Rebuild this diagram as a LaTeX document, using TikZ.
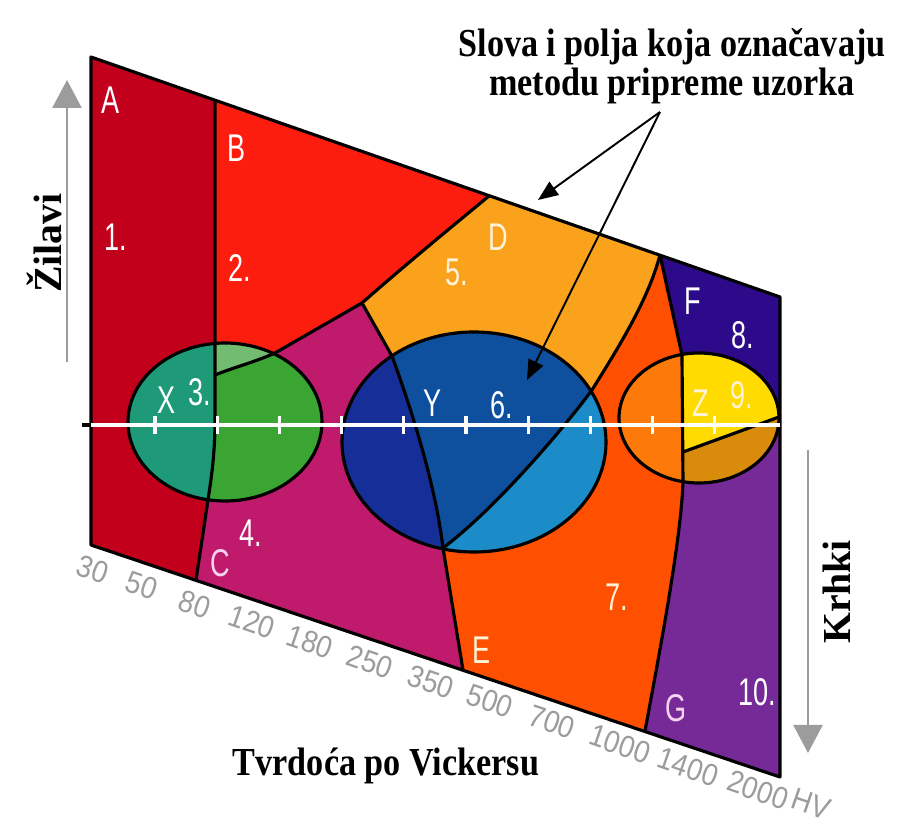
\documentclass[tikz,border=0pt]{standalone}
\usepackage{fontspec}
\setmainfont{Liberation Serif}
\setsansfont{Liberation Sans}
\usepackage{xcolor}
\usetikzlibrary{arrows.meta, backgrounds}
\definecolor{crvenaA}{HTML}{C3001B}
\definecolor{crvenaB}{HTML}{FD1D0F}
\definecolor{ljubC}{HTML}{BF1A6C}
\definecolor{narD}{HTML}{FBA21D}
\definecolor{narE}{HTML}{FE5000}
\definecolor{plavF}{HTML}{2D0A8A}
\definecolor{ljubG}{HTML}{752A98}
\definecolor{zelTeal}{HTML}{1F9A78}
\definecolor{zelena}{HTML}{3BA534}
\definecolor{zelSvj}{HTML}{72BC72}
\definecolor{plavTam}{HTML}{152E98}
\definecolor{plavSr}{HTML}{0E4F9E}
\definecolor{plavSvj}{HTML}{1B8CC8}
\definecolor{zNar}{HTML}{FD7A0A}
\definecolor{zZut}{HTML}{FFDB00}
\definecolor{zZlat}{HTML}{D98B0C}
\definecolor{sivaN}{HTML}{9C9C9C}
\definecolor{rozaL}{HTML}{F6D2EE}
\definecolor{krem}{HTML}{FFF2D6}
% outlines of the fields (picture units = pixels)
\newcommand\poljeA{(91,57) -- (215,100) -- (215,420) .. controls (215,455) and (211,480) .. (208,500) -- (196,580) -- (91,545) -- cycle}
\newcommand\poljeB{(215,100) -- (489,196) .. controls (449,229) and (404,266) .. (362,303) -- (275,353) .. controls (255,362) and (232,368) .. (215,375) -- cycle}
\newcommand\poljeC{(215,375) .. controls (232,368) and (255,362) .. (275,353) -- (362,303) -- (392,356) .. controls (408,400) and (435,480) .. (443,548) -- (463,670) -- (196,580) -- (208,500) .. controls (211,480) and (215,455) .. (215,420) -- cycle}
\newcommand\poljeD{(489,196) -- (660,255) .. controls (648,300) and (620,345) .. (592,390) .. controls (570,420) and (500,505) .. (443,548) .. controls (435,480) and (408,400) .. (392,356) -- (362,303) .. controls (404,266) and (449,229) .. (489,196) -- cycle}
\newcommand\poljeE{(443,548) .. controls (500,505) and (570,420) .. (592,390) .. controls (620,345) and (648,300) .. (660,255) -- (682,355) -- (683,482) .. controls (681,540) and (660,650) .. (645,731) -- (463,670) -- cycle}
\newcommand\poljeF{(660,255) -- (780,297) -- (780,418) -- (682,418) -- (682,355) -- cycle}
\newcommand\poljeG{(682,418) -- (780,418) -- (780,777) -- (645,731) .. controls (660,650) and (681,540) .. (683,482) -- cycle}
% the three ellipses X, Y, Z
\newcommand\elX{(225,422) ellipse [x radius=9.7mm, y radius=7.9mm]}
\newcommand\elY{(474,442) ellipse [x radius=13.2mm, y radius=11mm]}
\newcommand\elZ{(699,418) ellipse [x radius=8mm, y radius=6.5mm]}

\begin{document}
\begin{tikzpicture}[x=0.1mm, y=-0.1mm,
    background rectangle/.style={fill=white}, show background rectangle, inner frame sep=0pt,
    grana/.style={line width=0.9pt, black, line join=round},
    slovo/.style={text=white, font=\sffamily\fontsize{11}{12}\selectfont, xscale=0.7, inner sep=0pt},
    broj/.style={text=sivaN, font=\sffamily\fontsize{8.8}{10}\selectfont, rotate=-19, xscale=0.9, inner sep=0pt},
    natpis/.style={font=\bfseries\fontsize{11.3}{11}\selectfont, inner sep=0pt}]
  \useasboundingbox (0,0) rectangle (907,822);
  % fields
  \fill[crvenaA] \poljeA;
  \fill[crvenaB] \poljeB;
  \fill[ljubC] \poljeC;
  \fill[narD] \poljeD;
  \fill[narE] \poljeE;
  \fill[plavF] \poljeF;
  \fill[ljubG] \poljeG;
  % ellipse X
  \begin{scope}
    \clip \elX;
    \fill[zelTeal] \poljeA;
    \fill[zelSvj] \poljeB;
    \fill[zelena] \poljeC;
  \end{scope}
  % ellipse Y
  \begin{scope}
    \clip \elY;
    \fill[plavTam] \poljeC;
    \fill[plavSr] \poljeD;
    \fill[plavSvj] \poljeE;
  \end{scope}
  % ellipse Z
  \begin{scope}
    \clip \elZ;
    \fill[zNar] \poljeE;
    \fill[zZut] \poljeF;
    \fill[zZut] \poljeG;
    \fill[zZlat] (683,452) -- (782,416) -- (782,520) -- (683,520) -- cycle;
  \end{scope}
  % borders
  \draw[grana] (215,100) -- (215,420) .. controls (215,455) and (211,480) .. (208,500) -- (196,580);
  \draw[grana] (489,196) .. controls (449,229) and (404,266) .. (362,303) -- (275,353) .. controls (255,362) and (232,368) .. (215,375);
  \draw[grana] (362,303) -- (392,356) .. controls (408,400) and (435,480) .. (443,548) -- (463,670);
  \draw[grana] (660,255) .. controls (648,300) and (620,345) .. (592,390) .. controls (570,420) and (500,505) .. (443,548);
  \draw[grana] (660,255) -- (682,355) -- (683,482) .. controls (681,540) and (660,650) .. (645,731);
  \draw[grana] (683,452) -- (779,417);
  \draw[grana] \elX \elY \elZ;
  \draw[grana] (91,57) -- (780,297) -- (780,777) -- (91,545) -- cycle;
  % hardness axis
  \draw[black, line width=0.9pt] (82,425) -- (91,425);
  \draw[white, line width=1.4pt] (91,425) -- (780,425);
  \foreach \i in {0,...,9}
    \draw[white, line width=0.9pt] ({155+62.2*\i},416) -- ({155+62.2*\i},434);
  % letters and numbers of the fields
  \node[slovo] (lA) at (111,100) {A};
  \node[slovo] (l1) at (116,237) {1.};
  \node[slovo] (lB) at (237,148) {B};
  \node[slovo] (l2) at (240,268) {2.};
  \node[slovo] (lX) at (167,400) {X};
  \node[slovo] (l3) at (200,392) {3.};
  \node[slovo] (l4) at (251,533) {4.};
  \node[slovo, text=rozaL] (lC) at (220,563) {C};
  \node[slovo, text=krem] (lD) at (498,237) {D};
  \node[slovo, text=krem] (l5) at (457,272) {5.};
  \node[slovo] (lY) at (433,403) {Y};
  \node[slovo] (l6) at (502,405) {6.};
  \node[slovo, text=krem] (l7) at (617,597) {7.};
  \node[slovo, text=krem] (lE) at (482,650) {E};
  \node[slovo] (lF) at (693,301) {F};
  \node[slovo] (l8) at (743,335) {8.};
  \node[slovo, text=krem] (lZ) at (701,403) {Z};
  \node[slovo, text=krem] (l9) at (742,395) {9.};
  \node[slovo, text=rozaL] (lG) at (676,708) {G};
  \node[slovo] (l10) at (757,692) {10.};
  % hardness values
  \foreach \v/\x/\y [count=\k] in {30/93/569, 50/142/585, 80/195/604, 120/252/622, 180/310/642,
      250/370/662, 350/431/682, 500/490/701, 700/552/722, 1000/620/744, 1400/688/767, 2000/758/790, HV/811/804}
    \node[broj] (hv\k) at (\x,\y) {\v};
  % captions
  \node[natpis, align=center, xscale=0.86] (naslov) at (672,66) {Slova i polja koja označavaju\\metodu pripreme uzorka};
  \node[natpis, xscale=0.86] (tvrdoca) at (386,766) {Tvrdoća po Vickersu};
  \node[natpis, rotate=90] (zilavi) at (44,243) {Žilavi};
  \node[natpis, rotate=90] (krhki) at (837,592) {Krhki};
  % arrows
  \coordinate (izvor) at (660,112);
  \coordinate (vrhD) at (538,200);
  \coordinate (vrhY) at (527,380);
  \draw[line width=0.55pt, -{Triangle[length=2mm, width=1.6mm]}] (izvor) -- (vrhD);
  \draw[line width=0.55pt, -{Triangle[length=2mm, width=1.6mm]}] (izvor) -- (vrhY);
  \coordinate (zilD) at (67,362);
  \coordinate (zilG) at (67,80);
  \coordinate (krhG) at (808,450);
  \coordinate (krhD) at (808,753);
  \draw[sivaN, line width=0.75pt, -{Triangle[length=2.8mm, width=2.9mm]}] (zilD) -- (zilG);
  \draw[sivaN, line width=0.75pt, -{Triangle[length=2.8mm, width=2.9mm]}] (krhG) -- (krhD);
\end{tikzpicture}
\end{document}
